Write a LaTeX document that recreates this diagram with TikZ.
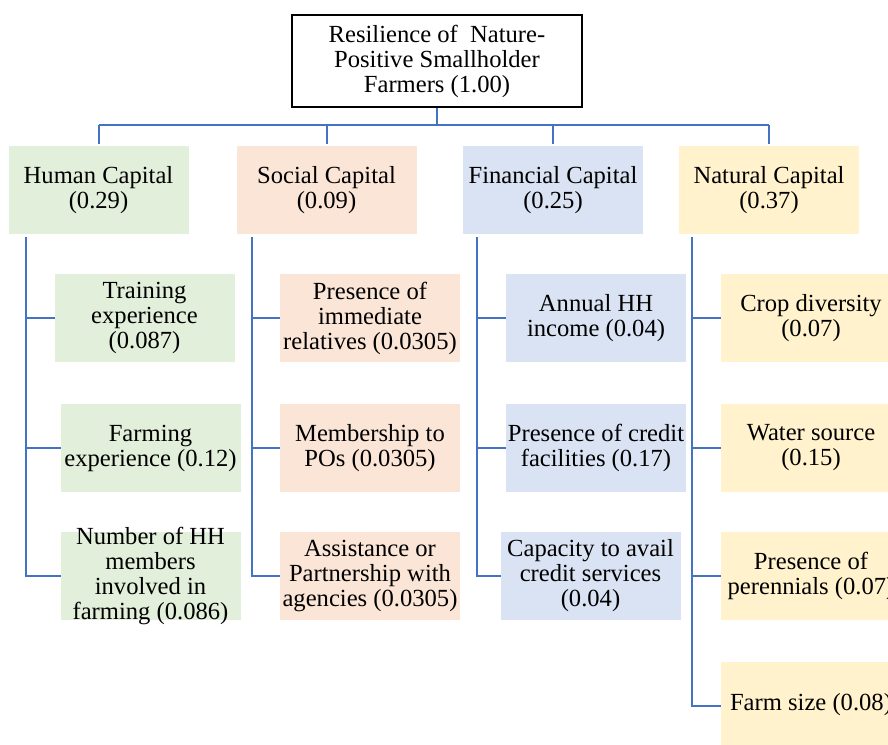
\documentclass[tikz,border=0pt]{standalone}
\usepackage{fontspec}
\setmainfont{Liberation Serif}
\definecolor{hcol}{HTML}{E2EFDA}
\definecolor{scol}{HTML}{FBE5D6}
\definecolor{fcol}{HTML}{DAE3F3}
\definecolor{ncol}{HTML}{FFF2CC}
\definecolor{lnk}{HTML}{4472C4}
\begin{document}
\begin{tikzpicture}[x=0.5pt,y=-0.5pt,
  box/.style={minimum width=90pt,minimum height=44pt,inner sep=0pt,outer sep=0pt},
  txt/.style={align=center,inner sep=0pt,font=\fontsize{12.3}{12.5}\selectfont},
  link/.style={draw=lnk,line width=1pt}]
\useasboundingbox (0,0) rectangle (888,744);
\clip (0,0) rectangle (888,744);

% root
\node[draw=black,line width=1.3pt,minimum width=145pt,minimum height=46pt,inner sep=0pt] (root) at (437,61) {};
\node[txt] (roott) at (root) {Resilience of\ \ Nature-\\Positive Smallholder\\Farmers (1.00)};

% capitals
\node[box,fill=hcol] (hc) at (98.5,190) {};
\node[txt] (hct) at (hc) {Human Capital\\(0.29)};
\node[box,fill=scol] (sc) at (326.5,190) {};
\node[txt] (sct) at (sc) {Social Capital\\(0.09)};
\node[box,fill=fcol] (fc) at (553,190) {};
\node[txt] (fct) at (fc) {Financial Capital\\(0.25)};
\node[box,fill=ncol] (nc) at (769,190) {};
\node[txt] (nct) at (nc) {Natural Capital\\(0.37)};

% human children
\node[box,fill=hcol] (h1) at (144.5,318) {};
\node[txt] (h1t) at (h1) {Training\\experience\\(0.087)};
\node[box,fill=hcol] (h2) at (150.5,448) {};
\node[txt] (h2t) at (h2) {Farming\\experience (0.12)};
\node[box,fill=hcol] (h3) at (150.5,576) {};
\node[txt] (h3t) at (h3) {Number of HH\\members\\involved in\\farming (0.086)};

% social children
\node[box,fill=scol] (s1) at (370,318) {};
\node[txt] (s1t) at (s1) {Presence of\\immediate\\relatives (0.0305)};
\node[box,fill=scol] (s2) at (370,448) {};
\node[txt] (s2t) at (s2) {Membership to\\POs (0.0305)};
\node[box,fill=scol] (s3) at (370,576) {};
\node[txt] (s3t) at (s3) {Assistance or\\Partnership with\\agencies (0.0305)};

% financial children
\node[box,fill=fcol] (f1) at (596,318) {};
\node[txt] (f1t) at (f1) {Annual HH\\income (0.04)};
\node[box,fill=fcol] (f2) at (596,448) {};
\node[txt] (f2t) at (f2) {Presence of credit\\facilities (0.17)};
\node[box,fill=fcol] (f3) at (590.5,576) {};
\node[txt] (f3t) at (f3) {Capacity to avail\\credit services\\(0.04)};

% natural children
\node[box,fill=ncol] (n1) at (811,318) {};
\node[txt] (n1t) at (n1) {Crop diversity\\(0.07)};
\node[box,fill=ncol] (n2) at (811,448) {};
\node[txt] (n2t) at (n2) {Water source\\(0.15)};
\node[box,fill=ncol] (n3) at (811,576) {};
\node[txt] (n3t) at (n3) {Presence of\\perennials (0.07)};
\node[box,fill=ncol] (n4) at (811,706) {};
\node[txt] (n4t) at (811,705) {Farm size (0.08)};

% top connectors
\coordinate (bus) at (437,125);
\draw[link] (root.south) -- (bus);
\draw[link] (hc.north |- bus) -- (nc.north |- bus);
\draw[link] (hc.north |- bus) -- ([yshift=1pt]hc.north);
\draw[link] (sc.north |- bus) -- ([yshift=1pt]sc.north);
\draw[link] (fc.north |- bus) -- ([yshift=1pt]fc.north);
\draw[link] (nc.north |- bus) -- ([yshift=1pt]nc.north);

% branch connectors
\coordinate (hv) at (26,237);
\coordinate (sv) at (252,237);
\coordinate (fv) at (477,237);
\coordinate (nv) at (692,237);
\draw[link] (hv) |- (h1.west);
\draw[link] (hv) |- (h2.west);
\draw[link] (hv) |- (h3.west);
\draw[link] (sv) |- (s1.west);
\draw[link] (sv) |- (s2.west);
\draw[link] (sv) |- (s3.west);
\draw[link] (fv) |- (f1.west);
\draw[link] (fv) |- (f2.west);
\draw[link] (fv) |- (f3.west);
\draw[link] (nv) |- (n1.west);
\draw[link] (nv) |- (n2.west);
\draw[link] (nv) |- (n3.west);
\draw[link] (nv) |- (n4.west);
\end{tikzpicture}
\end{document}
